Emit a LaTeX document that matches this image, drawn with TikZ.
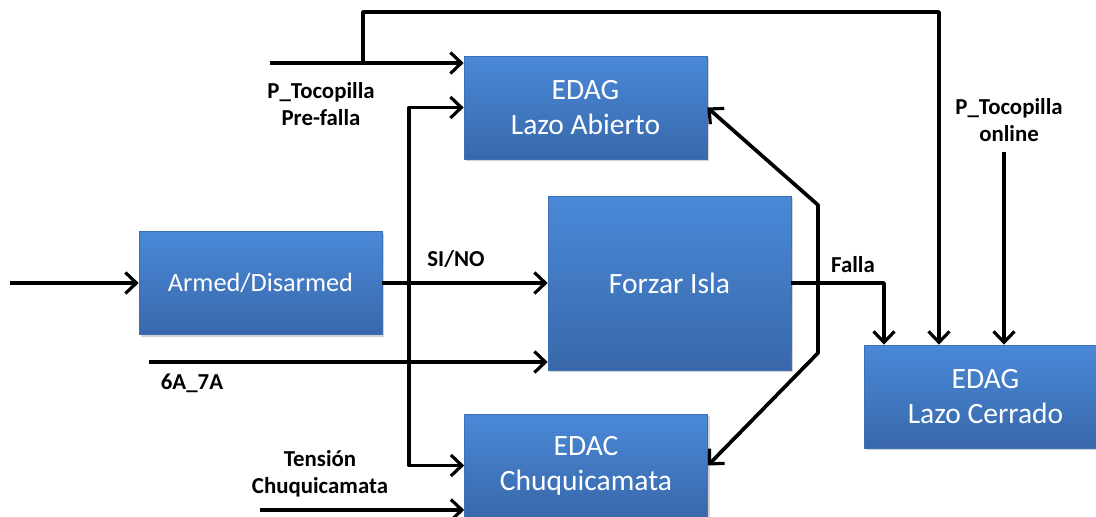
\documentclass[tikz,border=0pt]{standalone}
\usepackage{fontspec}
\setmainfont{Carlito}
\usetikzlibrary{arrows.meta,shadows}

\definecolor{boxtop}{RGB}{74,137,216}
\definecolor{boxbot}{RGB}{56,104,170}
\definecolor{boxrim}{RGB}{62,112,184}

\begin{document}
\begin{tikzpicture}[x=0.02cm, y=-0.02cm,
		blk/.style={rectangle, top color=boxtop, bottom color=boxbot, draw=boxrim, line width=0.4pt,
			minimum width=4.86cm, minimum height=2.06cm, text=white, align=center,
			font=\fontsize{16.8}{20}\selectfont,
			drop shadow={opacity=0.35, shadow xshift=1.2pt, shadow yshift=-1.2pt}},
		lbl/.style={align=center, text=black, font=\bfseries\fontsize{13}{15.4}\selectfont},
		sig/.style={line width=2.1pt, black, line join=round},
		>={Straight Barb[length=2.2mm, width=4.2mm, line width=1.8pt]}]
	\useasboundingbox (0,0) rectangle (1096,517);

	% blocks
	\node[blk] (la)   at (585.5,107.5) {EDAG\\Lazo Abierto};
	\node[blk, minimum height=3.48cm] (fi) at (669.5,283) {Forzar Isla};
	\node[blk, font=\fontsize{15}{18}\selectfont] (ad) at (260.5,283) {Armed/Disarmed};
	\node[blk] (edac) at (586,465.5) {EDAC\\Chuquicamata};
	\node[blk] (lc)   at (985.5,396.5) {EDAG\\Lazo Cerrado};

	% free ends and bends
	\coordinate (in)   at (10,283);
	\coordinate (ptin) at (270,63);
	\coordinate (br)   at (363,63);
	\coordinate (top)  at (939,12);
	\coordinate (sp)   at (409,283);
	\coordinate (aa)   at (149,362);
	\coordinate (tc)   at (260,510);
	\coordinate (fa)   at (884,283);
	\coordinate (hu)   at (818,205);
	\coordinate (hd)   at (818,353);
	\coordinate (on)   at (1004,152);

	% labels
	\node[lbl] (ptpre) at (321,104) {P\_Tocopilla\\Pre-falla};
	\node[lbl] (ptonl) at (1009,120) {P\_Tocopilla\\online};
	\node[lbl] (sino)  at (456,259) {SI/NO};
	\node[lbl] (six)   at (192,383) {6A\_7A};
	\node[lbl] (tens)  at (320,474) {Tensión\\Chuquicamata};
	\node[lbl] (falla) at (853,265) {Falla};

	% signals
	\draw[sig, ->] (in) -- (ad.west);
	\draw[sig, ->] (ad.east) -- (fi.west);
	\draw[sig, ->] (sp) |- (la.west);
	\draw[sig, ->] (sp) |- (edac.west);

	\draw[sig, ->] (ptin) -- (ptin -| la.west);
	\draw[sig, ->] (br) |- (top) -- (top |- lc.north);

	\draw[sig, ->] (aa) -- (aa -| fi.west);
	\draw[sig, ->] (tc) -- (tc -| edac.west);

	\draw[sig, ->] (fi.east) -- (fa) -- (fa |- lc.north);
	\draw[sig, <->] (la.east) -- (hu) -- (hd) -- (edac.east);
	\draw[sig, ->] (on) -- (on |- lc.north);
\end{tikzpicture}
\end{document}
